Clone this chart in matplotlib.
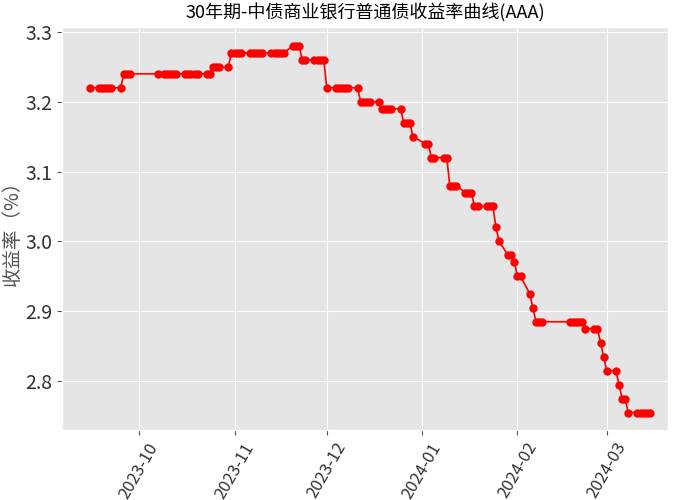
import matplotlib
matplotlib.use("Agg")
import matplotlib.pyplot as plt
import matplotlib.dates as mdates
import pandas as pd

plt.style.use("ggplot")
plt.rcParams['font.family'] = ['Noto Sans CJK SC', 'DejaVu Sans']
plt.rcParams['axes.unicode_minus'] = False

# runs of (start, end, yield)
run_starts = ["2023-09-15","2023-09-18","2023-09-25","2023-09-26","2023-10-07","2023-10-16","2023-10-23",
              "2023-10-25","2023-10-30","2023-10-31","2023-11-06","2023-11-13","2023-11-20","2023-11-23",
              "2023-11-27","2023-12-01","2023-12-04","2023-12-11","2023-12-12","2023-12-18","2023-12-19",
              "2023-12-25","2023-12-26","2023-12-29","2024-01-02","2024-01-04","2024-01-09","2024-01-10",
              "2024-01-15","2024-01-18","2024-01-22","2024-01-25","2024-01-26","2024-01-29","2024-01-31",
              "2024-02-01","2024-02-05","2024-02-06","2024-02-07","2024-02-18","2024-02-23","2024-02-27",
              "2024-02-28","2024-02-29","2024-03-01","2024-03-05","2024-03-06","2024-03-08","2024-03-12"]
run_ends   = ["2023-09-15","2023-09-22","2023-09-25","2023-09-28","2023-10-13","2023-10-20","2023-10-24",
              "2023-10-27","2023-10-30","2023-11-03","2023-11-10","2023-11-17","2023-11-22","2023-11-24",
              "2023-11-30","2023-12-01","2023-12-08","2023-12-11","2023-12-15","2023-12-18","2023-12-22",
              "2023-12-25","2023-12-28","2023-12-29","2024-01-03","2024-01-08","2024-01-09","2024-01-12",
              "2024-01-17","2024-01-19","2024-01-24","2024-01-25","2024-01-26","2024-01-30","2024-01-31",
              "2024-02-02","2024-02-05","2024-02-06","2024-02-09","2024-02-22","2024-02-26","2024-02-27",
              "2024-02-28","2024-02-29","2024-03-04","2024-03-05","2024-03-07","2024-03-11","2024-03-15"]
run_values = [3.22,3.22,3.22,3.24,3.24,3.24,3.24,
              3.25,3.25,3.27,3.27,3.27,3.28,3.26,
              3.26,3.22,3.22,3.22,3.20,3.20,3.19,
              3.19,3.17,3.15,3.14,3.12,3.12,3.08,
              3.07,3.05,3.05,3.02,3.00,2.98,2.97,
              2.95,2.925,2.905,2.885,2.885,2.875,2.875,
              2.855,2.835,2.815,2.795,2.775,2.755,2.755]

dates, vals = [], []
for s, e, v in zip(run_starts, run_ends, run_values):
    rng = pd.date_range(s, e, freq="D")
    rng = [d for d in rng if d.weekday() < 5 or d == pd.Timestamp(s)]
    dates += list(rng)
    vals += [v] * len(rng)

fig, ax = plt.subplots(figsize=(6.77, 5.0), dpi=100)
fig.subplots_adjust(left=0.092, right=0.987, top=0.946, bottom=0.14)
ax.plot(dates, vals, color="red", marker="o", markersize=5, linewidth=1.2)
ax.set_title("30年期-中债商业银行普通债收益率曲线(AAA)", fontsize=13)
ax.set_ylabel("收益率（%）", fontsize=14, labelpad=2)
ax.set_ylim(2.73, 3.307)
ax.set_xlim(pd.Timestamp("2023-09-06"), pd.Timestamp("2024-03-21"))
ax.xaxis.set_major_locator(mdates.MonthLocator())
ax.xaxis.set_major_formatter(mdates.DateFormatter("%Y-%m"))
ax.tick_params(axis='x', labelsize=12, rotation=60)
ax.tick_params(axis='y', labelsize=14)
for lbl in ax.get_xticklabels() + ax.get_yticklabels():
    lbl.set_color('#333333')
fig.savefig("out.png")
